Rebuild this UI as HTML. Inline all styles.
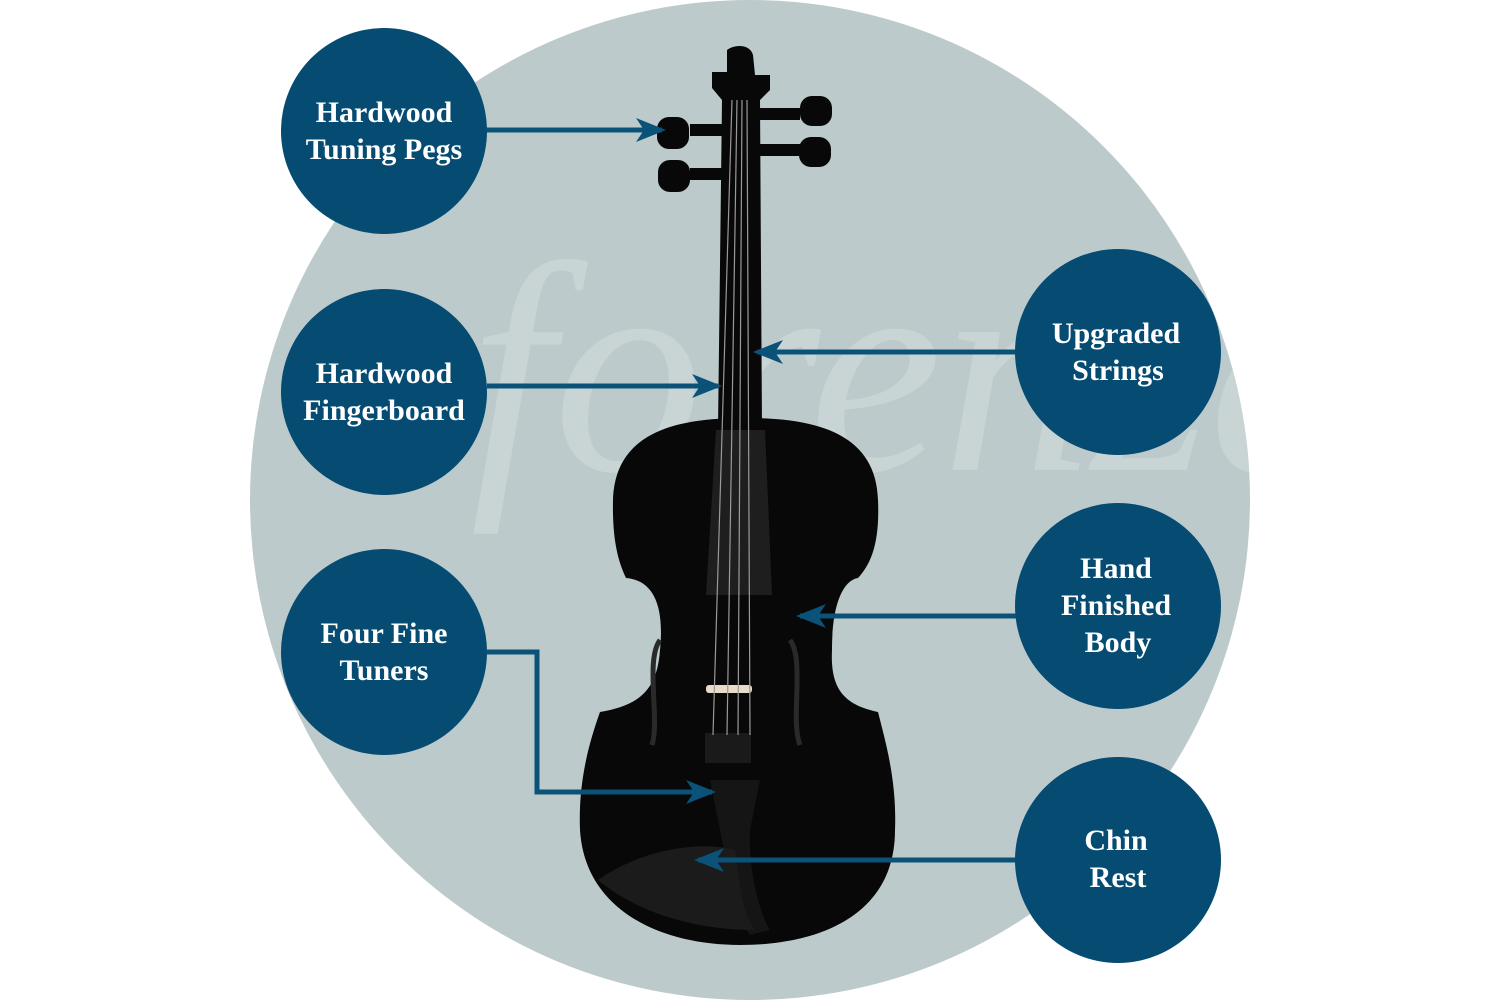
<!DOCTYPE html>
<html><head><meta charset="utf-8"><style>
html,body{margin:0;padding:0;background:#fff;}
svg{display:block;}
.t{font-family:"Liberation Serif",serif;font-size:30px;font-weight:bold;fill:#fff;text-anchor:middle;}
</style></head><body>
<svg width="1500" height="1000" viewBox="0 0 1500 1000">
<defs>
<marker id="a" viewBox="0 0 30 30" refX="26" refY="15" markerWidth="30" markerHeight="30" markerUnits="userSpaceOnUse" orient="auto">
<path d="M0,3 L30,15 L0,27 L8,15 Z" fill="#0b5279"/>
</marker>
<clipPath id="c"><circle cx="750" cy="500" r="500"/></clipPath>
</defs>
<circle cx="750" cy="500" r="500" fill="#bdcacb"/>
<g clip-path="url(#c)">
<text x="470" y="470" font-family="Liberation Serif,serif" font-style="italic" font-size="300" fill="#c9d4d5">forenza</text>
</g>
<!-- violin -->
<g fill="#080808">
<path d="M745,418 C680,418 615,430 613,500 C612,545 620,565 626,578 C650,580 665,600 660,650 C657,690 640,705 600,712 C590,740 578,780 580,830 C585,910 660,945 740,945 C820,945 895,915 895,830 C897,780 885,740 878,712 C845,705 830,690 832,650 C832,600 845,580 858,578 C870,565 880,545 878,500 C876,430 810,418 745,418 Z"/>
<path d="M727,50 C735,44 750,44 753,55 L755,75 L770,75 L770,90 L760,100 L762,430 L718,430 L722,100 L712,88 L712,72 L727,72 Z"/>
<rect x="690" y="124" width="40" height="12"/>
<rect x="690" y="168" width="40" height="12"/>
<rect x="760" y="108" width="40" height="12"/>
<rect x="760" y="144" width="40" height="12"/>
<rect x="657" y="117" width="32" height="32" rx="12"/>
<rect x="658" y="160" width="32" height="32" rx="12"/>
<rect x="800" y="96" width="32" height="30" rx="12"/>
<rect x="799" y="137" width="32" height="30" rx="12"/>
</g>
<path d="M716,430 L765,430 L772,595 L706,595 Z" fill="#1e1e1e"/>
<path d="M710,780 L760,780 L750,830 C748,870 760,915 770,930 L750,935 C735,915 728,870 720,830 Z" fill="#151515"/>
<path d="M598,880 C640,850 700,840 735,850 C740,880 740,910 755,930 C700,930 640,915 598,880 Z" fill="#1b1b1b"/>
<rect x="706" y="685" width="46" height="8" rx="3" fill="#e8dcc8"/>
<rect x="705" y="733" width="46" height="30" fill="#1a1a1a"/>
<g stroke="#9a9a9a" stroke-width="1.2">
<line x1="732" y1="100" x2="713" y2="735"/><line x1="737" y1="100" x2="727" y2="735"/>
<line x1="742" y1="100" x2="738" y2="735"/><line x1="747" y1="100" x2="750" y2="735"/>
</g>
<g fill="none" stroke="#2a2a2a" stroke-width="5">
<path d="M660,640 C645,660 660,720 652,745"/><path d="M790,640 C805,660 790,720 800,745"/>
</g>
<!-- connectors -->
<g stroke="#0b5279" stroke-width="5" fill="none">
<line x1="487" y1="130" x2="662" y2="130" marker-end="url(#a)"/>
<line x1="487" y1="386" x2="718" y2="386" marker-end="url(#a)"/>
<line x1="1017" y1="352" x2="757" y2="352" marker-end="url(#a)"/>
<line x1="1017" y1="616" x2="800" y2="616" marker-end="url(#a)"/>
<polyline points="487,652 537,652 537,792 712,792" marker-end="url(#a)"/>
<line x1="1017" y1="860" x2="698" y2="860" marker-end="url(#a)"/>
</g>
<g fill="#054b72">
<circle cx="384" cy="131" r="103"/><circle cx="384" cy="392" r="103"/><circle cx="384" cy="652" r="103"/>
<circle cx="1118" cy="352" r="103"/><circle cx="1118" cy="606" r="103"/><circle cx="1118" cy="860" r="103"/>
</g>
<text class="t" x="384" y="122">Hardwood</text><text class="t" x="384" y="159">Tuning Pegs</text>
<text class="t" x="384" y="383">Hardwood</text><text class="t" x="384" y="420">Fingerboard</text>
<text class="t" x="384" y="643">Four Fine</text><text class="t" x="384" y="680">Tuners</text>
<text class="t" x="1116" y="343">Upgraded</text><text class="t" x="1118" y="380">Strings</text>
<text class="t" x="1116" y="578">Hand</text><text class="t" x="1116" y="615">Finished</text><text class="t" x="1118" y="652">Body</text>
<text class="t" x="1116" y="850">Chin</text><text class="t" x="1118" y="887">Rest</text>
</svg>
</body></html>
